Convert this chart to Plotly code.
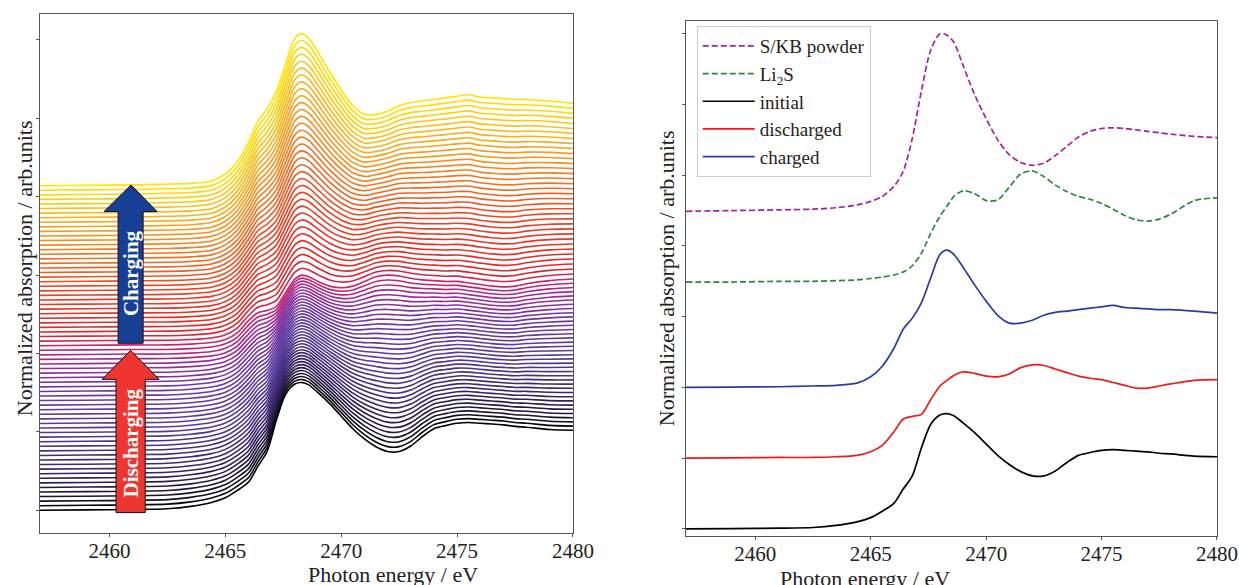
import plotly.graph_objects as go

# ---------------- data ----------------
energy = [2457.0, 2459.0, 2461.0, 2462.5, 2463.5, 2464.4, 2465.0, 2465.5, 2466.0, 2466.4,
          2466.8, 2467.2, 2467.6, 2468.0, 2468.3, 2468.6, 2469.0, 2469.5, 2470.0, 2470.5,
          2471.0, 2471.5, 2472.0, 2472.5, 2473.0, 2473.5, 2474.0, 2474.5, 2475.0, 2475.5,
          2476.0, 2476.5, 2477.0, 2477.5, 2478.0, 2479.0, 2480.0]

# reference spectra (relative to their own pre-edge level)
initial = [0.00, 0.005, 0.01, 0.02, 0.05, 0.10, 0.16, 0.25, 0.36, 0.56,
           0.75, 1.15, 1.48, 1.61, 1.63, 1.60, 1.50, 1.36, 1.20, 1.04,
           0.91, 0.81, 0.75, 0.75, 0.82, 0.94, 1.04, 1.08, 1.11, 1.12,
           1.11, 1.10, 1.09, 1.07, 1.06, 1.03, 1.02]
discharged = [0.00, 0.005, 0.01, 0.01, 0.02, 0.04, 0.09, 0.18, 0.37, 0.55,
              0.59, 0.62, 0.83, 1.02, 1.10, 1.17, 1.22, 1.20, 1.16, 1.15,
              1.19, 1.28, 1.32, 1.31, 1.26, 1.21, 1.16, 1.13, 1.11, 1.07,
              1.03, 0.99, 0.99, 1.02, 1.05, 1.10, 1.11]
charged = [0.00, 0.005, 0.01, 0.02, 0.03, 0.06, 0.15, 0.30, 0.55, 0.82,
           0.98, 1.20, 1.55, 1.88, 1.94, 1.88, 1.70, 1.45, 1.22, 1.02,
           0.91, 0.91, 0.95, 1.02, 1.06, 1.08, 1.10, 1.12, 1.14, 1.16,
           1.13, 1.12, 1.11, 1.10, 1.10, 1.08, 1.05]
li2s = [0.00, 0.00, 0.01, 0.01, 0.02, 0.03, 0.05, 0.07, 0.10, 0.14,
        0.23, 0.41, 0.69, 0.93, 1.07, 1.21, 1.29, 1.25, 1.15, 1.16,
        1.34, 1.53, 1.57, 1.49, 1.37, 1.28, 1.21, 1.17, 1.11, 1.03,
        0.94, 0.88, 0.86, 0.89, 0.96, 1.15, 1.19]
skb = [0.00, 0.01, 0.02, 0.03, 0.05, 0.09, 0.14, 0.21, 0.35, 0.56,
       1.03, 1.71, 2.28, 2.51, 2.49, 2.39, 2.06, 1.65, 1.31, 1.01,
       0.80, 0.69, 0.65, 0.68, 0.79, 0.92, 1.05, 1.13, 1.17, 1.18,
       1.17, 1.15, 1.13, 1.11, 1.09, 1.06, 1.04]

# operando discharged state seen in the waterfall (left panel)
operando_discharged = [0.00, 0.005, 0.01, 0.01, 0.02, 0.04, 0.08, 0.16, 0.32, 0.42,
                       0.45, 0.50, 0.68, 0.85, 0.90, 0.88, 0.82, 0.76, 0.74, 0.76,
                       0.82, 0.88, 0.90, 0.89, 0.86, 0.84, 0.83, 0.82, 0.82, 0.80,
                       0.78, 0.76, 0.75, 0.76, 0.79, 0.83, 0.85]

ref_names = ["S/KB powder", "Li<sub>2</sub>S", "initial", "discharged", "charged"]
ref_offsets = [4.49, 3.49, 0.0, 1.0, 2.0]

n_discharge_scans = 36
n_charge_scans = 36
waterfall_top_offset = 4.14

x_ticks = [2460, 2465, 2470, 2475, 2480]

# ---------------- style ----------------
FONT = "Liberation Serif, Times New Roman, serif"
color_stops = [(0.00, "#000000"), (0.05, "#1e1636"), (0.12, "#38246c"), (0.25, "#553c9a"),
               (0.38, "#7236a4"), (0.46, "#a02a94"), (0.51, "#cc2660"), (0.54, "#e22428"),
               (0.68, "#ee4222"), (0.80, "#f57d1e"), (0.90, "#f9b01a"), (1.00, "#ffe600")]


def hex2rgb(h):
    h = h.lstrip("#")
    return tuple(int(h[i:i + 2], 16) for i in (0, 2, 4))


def cmap(t):
    for (p0, c0), (p1, c1) in zip(color_stops[:-1], color_stops[1:]):
        if p0 <= t <= p1:
            a = (t - p0) / (p1 - p0) if p1 > p0 else 0
            r0, g0, b0 = hex2rgb(c0)
            r1, g1, b1 = hex2rgb(c1)
            return "rgb(%d,%d,%d)" % (round(r0 + a * (r1 - r0)), round(g0 + a * (g1 - g0)),
                                      round(b0 + a * (b1 - b0)))
    return color_stops[-1][1]


fig = go.Figure()

# ---------------- left panel: waterfall ----------------
n_total = n_discharge_scans + n_charge_scans
step = waterfall_top_offset / (n_total - 1)
for k in range(n_total):
    if k < n_discharge_scans:
        f = k / n_discharge_scans
        spec = [(1 - f) * a + f * b for a, b in zip(initial, operando_discharged)]
    else:
        g = (k - n_discharge_scans) / (n_charge_scans - 1)
        spec = [(1 - g) * a + g * b for a, b in zip(operando_discharged, charged)]
    off = k * step
    fig.add_trace(go.Scatter(
        x=energy, y=[v + off for v in spec], mode="lines",
        line=dict(color=cmap(k / (n_total - 1)), width=1.6, shape="spline", smoothing=0.8),
        showlegend=False, hoverinfo="skip", xaxis="x", yaxis="y"))

# ---------------- right panel: references ----------------
ref_data = [skb, li2s, initial, discharged, charged]
ref_colors = ["#a3239e", "#2e8540", "#000000", "#f0191b", "#2b3d9c"]
ref_dash = ["6px,3px", "6px,3px", "solid", "solid", "solid"]
for name, spec, off, col, dash in zip(ref_names, ref_data, ref_offsets, ref_colors, ref_dash):
    fig.add_trace(go.Scatter(
        x=energy, y=[v + off for v in spec], mode="lines", name=name,
        line=dict(color=col, width=1.7, dash=dash, shape="spline", smoothing=0.8),
        xaxis="x2", yaxis="y2"))

axis_common = dict(showline=True, mirror=True, linecolor="#555555", linewidth=1.2,
                   ticks="outside", ticklen=3, tickcolor="#555555", showgrid=False,
                   zeroline=False, automargin=False)

fig.update_layout(
    width=1239, height=585,
    margin=dict(l=40, r=22, t=14, b=49),
    paper_bgcolor="white", plot_bgcolor="white",
    font=dict(family=FONT, size=21, color="#222222"),
    xaxis=dict(domain=[0, 0.4528], range=[2457, 2480], tickvals=x_ticks,
               tickfont=dict(size=21), anchor="y", ticklabelstandoff=-4, **axis_common),
    yaxis=dict(domain=[0.0057, 1.0], range=[-0.29, 6.33], tickvals=[0, 1, 2, 3, 4, 5, 6],
               showticklabels=False, anchor="x", **axis_common),
    xaxis2=dict(domain=[0.5489, 1.0], range=[2457, 2480], tickvals=x_ticks,
                tickfont=dict(size=21), anchor="y2", ticklabelstandoff=-4, **axis_common),
    yaxis2=dict(domain=[0.0, 0.9866], range=[-0.10, 7.18], tickvals=[0, 1, 2, 3, 4, 5, 6, 7],
                showticklabels=False, anchor="x2", **axis_common),
    legend=dict(x=0.558, y=0.977, xanchor="left", yanchor="top",
                bgcolor="white", bordercolor="#cccccc", borderwidth=1, itemwidth=52,
                font=dict(family=FONT, size=19, color="#222222"), tracegroupgap=0),
    showlegend=True,
)

# arrows (in left-panel data coordinates)
charging_path = ("M 2460.37 2.13 L 2460.37 3.81 L 2459.76 3.81 L 2460.93 4.15 "
                 "L 2462.05 3.81 L 2461.45 3.81 L 2461.45 2.13 Z")
discharging_path = ("M 2460.28 -0.03 L 2460.28 1.67 L 2459.68 1.67 L 2460.91 2.04 "
                    "L 2462.14 1.67 L 2461.54 1.67 L 2461.54 -0.03 Z")
fig.add_shape(type="path", path=charging_path, xref="x", yref="y",
              fillcolor="#173f96", line=dict(color="#111111", width=1))
fig.add_shape(type="path", path=discharging_path, xref="x", yref="y",
              fillcolor="#ee3530", line=dict(color="#111111", width=1))

annotations = [
    dict(text="<b>Charging</b>", x=2460.91, y=3.02, xref="x", yref="y", textangle=-90,
         showarrow=False, font=dict(family=FONT, size=21, color="white")),
    dict(text="<b>Discharging</b>", x=2460.91, y=0.86, xref="x", yref="y", textangle=-90,
         showarrow=False, font=dict(family=FONT, size=21, color="white")),
    dict(text="Photon energy / eV", x=0.2264, y=-0.0747, xref="paper", yref="paper",
         showarrow=False, yanchor="middle", font=dict(family=FONT, size=22)),
    dict(text="Photon energy / eV", x=0.7745, y=-0.0805, xref="paper", yref="paper",
         showarrow=False, yanchor="middle", font=dict(family=FONT, size=22)),
    dict(text="Normalized absorption / arb.units", x=-0.0136, y=0.513, xref="paper",
         yref="paper", textangle=-90, showarrow=False, xanchor="center", yanchor="middle",
         font=dict(family=FONT, size=22)),
    dict(text="Normalized absorption / arb.units", x=0.5319, y=0.494, xref="paper",
         yref="paper", textangle=-90, showarrow=False, xanchor="center", yanchor="middle",
         font=dict(family=FONT, size=22)),
]
fig.update_layout(annotations=annotations)

# remove the browser's default page margin so the figure fills the window exactly
fig.write_html("out.html", config={"displayModeBar": False},
               post_script="document.body.style.margin='0';"
                           "document.body.style.overflow='hidden';")
